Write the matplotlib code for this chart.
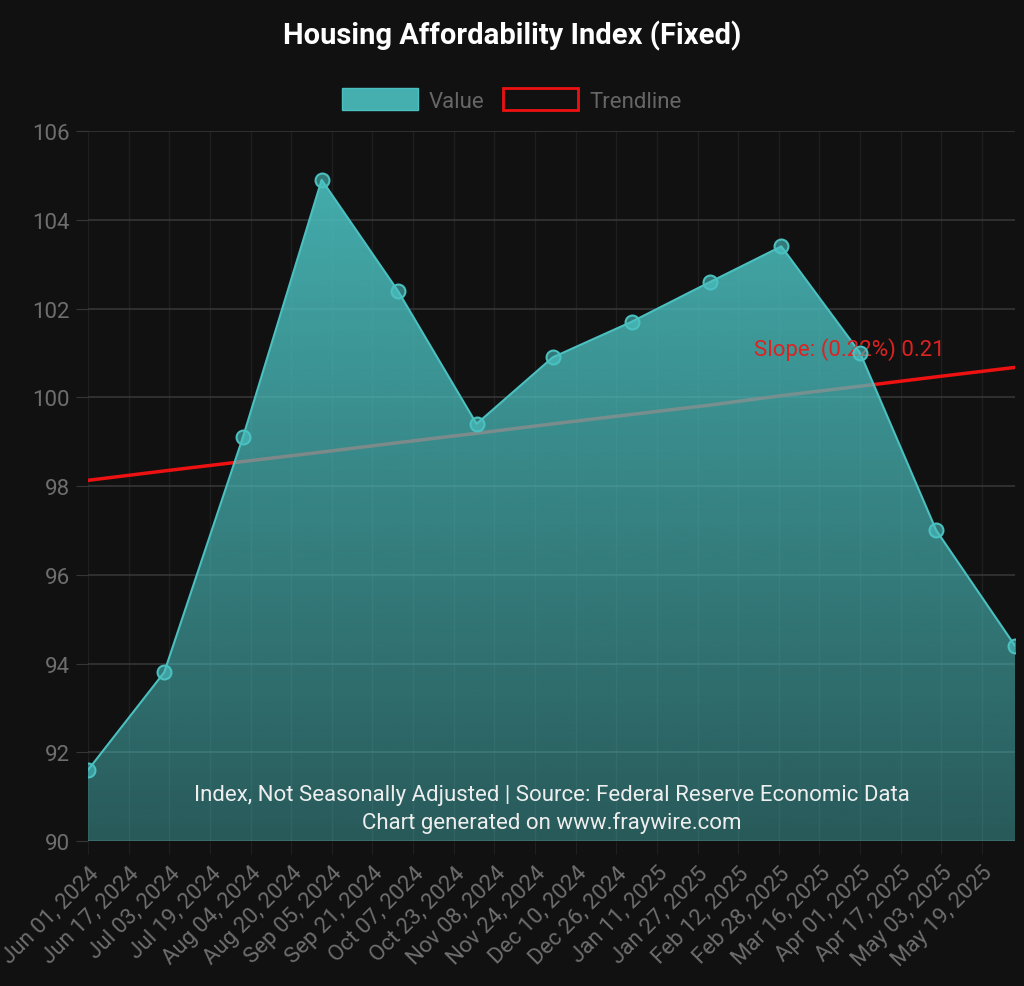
import numpy as np
import pandas as pd
import matplotlib
matplotlib.use("Agg")
import matplotlib.pyplot as plt
import matplotlib.dates as mdates
from matplotlib.patches import Patch, Polygon
from matplotlib.colors import LinearSegmentedColormap

# data (monthly points)
dates = pd.to_datetime([
    "2024-06-01", "2024-07-01", "2024-08-01", "2024-09-01", "2024-10-01",
    "2024-11-01", "2024-12-01", "2025-01-01", "2025-02-01", "2025-03-01",
    "2025-04-01", "2025-05-01", "2025-06-01",
])
values = [91.6, 93.8, 99.1, 104.9, 102.4, 99.4, 100.9, 101.7, 102.6, 103.4,
          101.0, 97.0, 94.4]
y_ticks = [90, 92, 94, 96, 98, 100, 102, 104, 106]
title = "Housing Affordability Index (Fixed)"
slope_label = "Slope: (0.22%) 0.21"
footnote = ["Index, Not Seasonally Adjusted | Source: Federal Reserve Economic Data",
            "Chart generated on www.fraywire.com"]

BG = "#111111"
TEAL = (75 / 255, 192 / 255, 192 / 255)
GREY = "#6e6e6e"

plt.rcParams["font.family"] = ["Roboto", "DejaVu Sans"]

fig = plt.figure(figsize=(10.24, 9.87), dpi=100, facecolor=BG)
ax = fig.add_axes([88 / 1024, 1 - 842 / 987, 927 / 1024, 710 / 987], facecolor=BG)

x = mdates.date2num(dates)
y = np.array(values)

# trendline (least squares over point index), sits under the fill
idx = np.arange(len(y))
k, b = np.polyfit(idx, y, 1)
ax.plot(x, k * idx + b, color="#ee1111", lw=2.5, zorder=2)

# gradient area fill
ymin, ymax = 90, 106
cmap = LinearSegmentedColormap.from_list(
    "tealgrad", [(*TEAL, 0.42), (*TEAL, 0.92)])
grad = np.linspace(0, 1, 256).reshape(-1, 1)
im = ax.imshow(grad, extent=[x[0], x[-1], ymin, ymax], origin="lower",
               aspect="auto", cmap=cmap, zorder=3)
poly = Polygon(np.column_stack([np.r_[x[0], x, x[-1]], np.r_[ymin, y, ymin]]),
               closed=True, facecolor="none", edgecolor="none")
ax.add_patch(poly)
im.set_clip_path(poly)

ax.plot(x, y, color=TEAL, lw=1.5, zorder=4)
ax.plot(x, y, "o", ms=10, mfc=(*TEAL, 0.6), mec=TEAL, mew=1.5, zorder=6)

ax.text(0.718, 0.693, slope_label, transform=ax.transAxes, color="#dd2222",
        fontsize=16, ha="left", va="center", zorder=5)

ax.text(0.5, 0.066, footnote[0], transform=ax.transAxes, color="#eeeeee",
        fontsize=16, ha="center", va="center", zorder=7)
ax.text(0.5, 0.027, footnote[1], transform=ax.transAxes, color="#eeeeee",
        fontsize=16, ha="center", va="center", zorder=7)

ax.set_xlim(x[0], x[-1])
ax.set_ylim(ymin, ymax)
ax.set_yticks(y_ticks)
ax.set_yticklabels([str(t) for t in y_ticks])
xt = pd.date_range("2024-06-01", "2025-05-31", freq="16D")
ax.set_xticks(mdates.date2num(xt))
ax.set_xticklabels([d.strftime("%b %d, %Y") for d in xt], rotation=45,
                   ha="right", rotation_mode="anchor")

ax.grid(axis="y", color="#363636", lw=1.2, zorder=1)
ax.grid(axis="x", color="#1f1f1f", lw=1, zorder=1)
ax.tick_params(axis="y", colors="#363636", labelcolor=GREY, labelsize=16,
               length=9, pad=4)
ax.tick_params(axis="x", colors="#1f1f1f", labelcolor=GREY, labelsize=16,
               length=9, pad=6)
for s in ax.spines.values():
    s.set_visible(False)

fig.text(0.5, 1 - 36 / 987, title, color="white", fontsize=21,
         fontweight="bold", ha="center", va="center")

handles = [Patch(facecolor=(*TEAL, 0.9), edgecolor=TEAL, label="Value"),
           Patch(facecolor=BG, edgecolor="#ee1111", lw=2, label="Trendline")]
leg = fig.legend(handles=handles, loc="center", ncol=2,
                 bbox_to_anchor=(0.5, 1 - 101 / 987), frameon=False,
                 fontsize=16, handlelength=3.4, handleheight=1.15,
                 handletextpad=0.5, columnspacing=0.8)
for t in leg.get_texts():
    t.set_color("#666666")

fig.savefig("out.png", dpi=100, facecolor=BG)
